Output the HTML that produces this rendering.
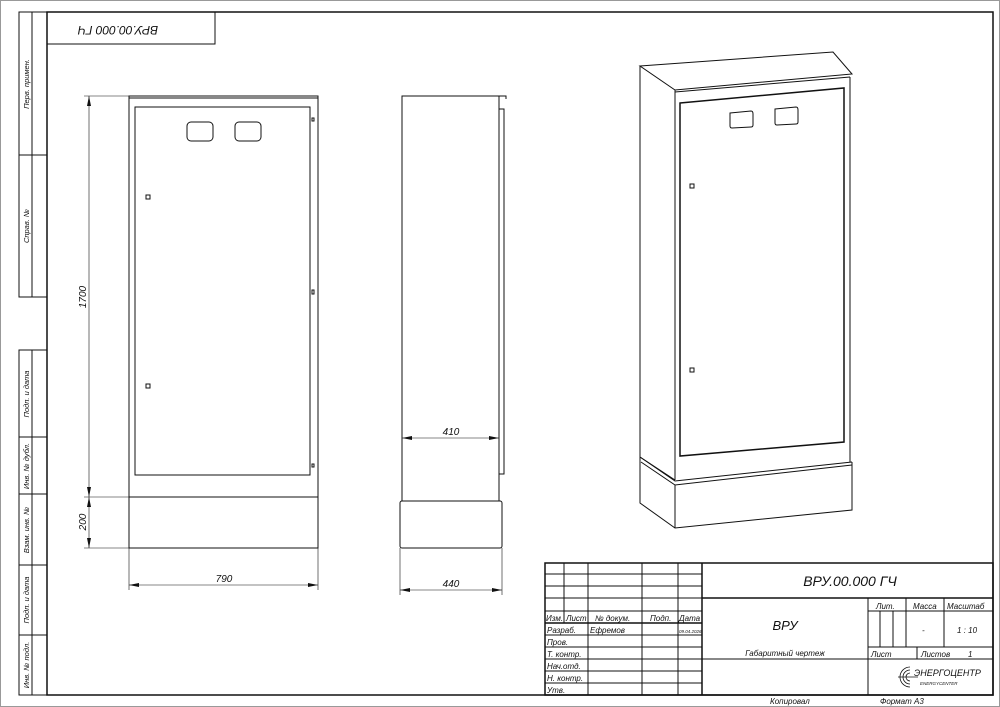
<!DOCTYPE html>
<html><head><meta charset="utf-8"><style>
html,body{margin:0;padding:0;background:#fff;}
svg{display:block;}
text{font-family:"Liberation Sans","DejaVu Sans",sans-serif;font-style:italic;fill:#111;}
</style></head><body>
<svg width="1000" height="707" viewBox="0 0 1000 707" xmlns="http://www.w3.org/2000/svg">
<defs>
<marker id="a" viewBox="0 0 10 4" refX="10" refY="2" markerWidth="10" markerHeight="4" orient="auto-start-reverse" markerUnits="userSpaceOnUse"><path d="M0,0 L10,2 L0,4z" fill="#111"/></marker>
</defs>
<rect x="0.5" y="0.5" width="999" height="706" fill="none" stroke="#999"/>
<g stroke="#111" fill="none" stroke-width="1">
<!-- frame -->
<rect x="47" y="12" width="946" height="683" stroke-width="1.5"/>
<rect x="47" y="12" width="168" height="32"/>
<!-- left strips -->
<rect x="19" y="12" width="28" height="285"/>
<line x1="32" y1="12" x2="32" y2="297"/>
<line x1="19" y1="155" x2="47" y2="155"/>
<rect x="19" y="350" width="28" height="345"/>
<line x1="32" y1="350" x2="32" y2="695"/>
<line x1="19" y1="437" x2="47" y2="437"/>
<line x1="19" y1="494" x2="47" y2="494"/>
<line x1="19" y1="565" x2="47" y2="565"/>
<line x1="19" y1="635" x2="47" y2="635"/>

<!-- front view -->
<rect x="129" y="96" width="189" height="401"/>
<line x1="129" y1="98" x2="318" y2="98"/>
<rect x="135" y="107" width="175" height="368"/>
<rect x="187" y="122" width="26" height="19" rx="4"/>
<rect x="235" y="122" width="26" height="19" rx="4"/>
<rect x="146" y="195" width="4" height="4"/>
<rect x="146" y="384" width="4" height="4"/>
<rect x="312" y="118" width="2" height="3"/>
<rect x="312" y="290" width="2" height="4"/>
<rect x="312" y="464" width="2" height="3"/>
<rect x="129" y="497" width="189" height="51"/>
<!-- front dims -->
<g stroke-width="0.6">
<line x1="84" y1="96" x2="129" y2="96"/>
<line x1="84" y1="497" x2="129" y2="497"/>
<line x1="84" y1="548" x2="129" y2="548"/>
<line x1="89" y1="96" x2="89" y2="497" marker-start="url(#a)" marker-end="url(#a)"/>
<line x1="89" y1="497" x2="89" y2="548" marker-start="url(#a)" marker-end="url(#a)"/>
<line x1="129" y1="548" x2="129" y2="590"/>
<line x1="318" y1="548" x2="318" y2="590"/>
<line x1="129" y1="585" x2="318" y2="585" marker-start="url(#a)" marker-end="url(#a)"/>
</g>

<!-- side view -->
<rect x="402" y="96" width="97" height="405"/>
<path d="M499,96 L506,96 L506,99"/>
<rect x="499" y="109" width="5" height="365"/>
<rect x="400" y="501" width="102" height="47" rx="2"/>
<g stroke-width="0.6">
<line x1="402" y1="438" x2="499" y2="438" marker-start="url(#a)" marker-end="url(#a)"/>
<line x1="400" y1="548" x2="400" y2="595"/>
<line x1="502" y1="548" x2="502" y2="595"/>
<line x1="400" y1="590" x2="502" y2="590" marker-start="url(#a)" marker-end="url(#a)"/>
</g>

<!-- 3D view -->
<path d="M640,66 L833,52 L852,74 L675,90 Z"/>
<path d="M675,92 L850,77"/>
<path d="M640,66 L640,457 L675,480"/>
<line x1="675" y1="90" x2="675" y2="480"/>
<line x1="850" y1="77" x2="850" y2="462"/>
<path d="M680,103 L844,88 L844,442 L680,456 Z" stroke-width="1.5"/>
<path d="M730,113 L751,111 Q753,111 753,114 L753,125 Q753,127 751,127 L732,128 Q730,128 730,126 Z"/>
<path d="M775,109 L796,107 Q798,107 798,110 L798,122 Q798,124 796,124 L777,125 Q775,125 775,123 Z"/>
<rect x="690" y="184" width="4" height="4"/>
<rect x="690" y="368" width="4" height="4"/>
<path d="M640,457 L675,481 L852,462"/>
<path d="M641,462 L675,485 L852,465"/>
<path d="M640,457 L640,503 L675,528 L852,510 L852,462"/>
<line x1="675" y1="485" x2="675" y2="528"/>

<!-- title block -->
<rect x="545" y="563" width="448" height="132" stroke-width="1.5"/>
<line x1="702" y1="563" x2="702" y2="695" stroke-width="1.5"/>
<line x1="702" y1="598" x2="993" y2="598" stroke-width="1.5"/>
<line x1="545" y1="574" x2="702" y2="574"/>
<line x1="545" y1="586" x2="702" y2="586"/>
<line x1="545" y1="598" x2="702" y2="598"/>
<line x1="545" y1="611" x2="702" y2="611"/>
<line x1="545" y1="623" x2="702" y2="623" stroke-width="1.5"/>
<line x1="545" y1="635" x2="702" y2="635"/>
<line x1="545" y1="647" x2="702" y2="647"/>
<line x1="545" y1="659" x2="702" y2="659"/>
<line x1="545" y1="671" x2="702" y2="671"/>
<line x1="545" y1="683" x2="702" y2="683"/>
<line x1="564" y1="563" x2="564" y2="623"/>
<line x1="588" y1="563" x2="588" y2="695"/>
<line x1="642" y1="563" x2="642" y2="695"/>
<line x1="678" y1="563" x2="678" y2="695"/>
<line x1="702" y1="659" x2="993" y2="659"/>
<line x1="868" y1="598" x2="868" y2="695"/>
<line x1="868" y1="611" x2="993" y2="611"/>
<line x1="868" y1="647" x2="993" y2="647"/>
<line x1="880" y1="611" x2="880" y2="647"/>
<line x1="893" y1="611" x2="893" y2="647"/>
<line x1="906" y1="598" x2="906" y2="647"/>
<line x1="944" y1="598" x2="944" y2="647"/>
<line x1="917" y1="647" x2="917" y2="659"/>
<!-- logo -->
<g stroke-width="0.8">
<path d="M910,667 A10,10 0 1 0 910,687"/>
<path d="M910,670 A7,7 0 1 0 910,684"/>
<path d="M910,673 A4,4 0 1 0 910,681"/>
<line x1="898" y1="677" x2="918" y2="677"/>
</g>
</g>

<!-- text -->
<text x="118" y="34" font-size="12" text-anchor="middle" transform="rotate(180 118 30)">ВРУ.00.000 ГЧ</text>
<g font-size="7.5" text-anchor="middle">
<text transform="translate(29,84) rotate(-90)">Перв. примен.</text>
<text transform="translate(29,226) rotate(-90)">Справ. №</text>
<text transform="translate(29,394) rotate(-90)">Подп. и дата</text>
<text transform="translate(29,466) rotate(-90)">Инв. № дубл.</text>
<text transform="translate(29,530) rotate(-90)">Взам. инв. №</text>
<text transform="translate(29,600) rotate(-90)">Подп. и дата</text>
<text transform="translate(29,665) rotate(-90)">Инв. № подл.</text>
</g>
<g font-size="10" text-anchor="middle">
<text transform="translate(86,297) rotate(-90)">1700</text>
<text transform="translate(86,522) rotate(-90)">200</text>
<text x="224" y="582">790</text>
<text x="451" y="435">410</text>
<text x="451" y="587">440</text>
</g>
<text x="850" y="586" font-size="14" text-anchor="middle">ВРУ.00.000 ГЧ</text>
<text x="785" y="630" font-size="13" text-anchor="middle">ВРУ</text>
<text x="785" y="656" font-size="8" text-anchor="middle">Габаритный чертеж</text>
<g font-size="8">
<text x="546" y="621">Изм.</text>
<text x="566" y="621">Лист</text>
<text x="595" y="621">№ докум.</text>
<text x="650" y="621">Подп.</text>
<text x="679" y="621">Дата</text>
<text x="547" y="633">Разраб.</text>
<text x="590" y="633">Ефремов</text>
<text x="547" y="645">Пров.</text>
<text x="547" y="657">Т. контр.</text>
<text x="547" y="669">Нач.отд.</text>
<text x="547" y="681">Н. контр.</text>
<text x="547" y="693">Утв.</text>
<text x="876" y="609">Лит.</text>
<text x="913" y="609">Масса</text>
<text x="947" y="609">Масштаб</text>
<text x="871" y="657">Лист</text>
<text x="921" y="657">Листов</text>
<text x="968" y="657">1</text>
<text x="922" y="633">-</text>
<text x="957" y="633">1 : 10</text>
<text x="770" y="704">Копировал</text>
<text x="880" y="704">Формат А3</text>
</g>
<text x="679" y="633" font-size="4.5">09.04.2026</text>
<text x="914" y="676" font-size="9" font-style="normal">ЭНЕРГОЦЕНТР</text>
<text x="920" y="685" font-size="4.5" font-style="normal">ENERGYCENTER</text>
</svg>
</body></html>
